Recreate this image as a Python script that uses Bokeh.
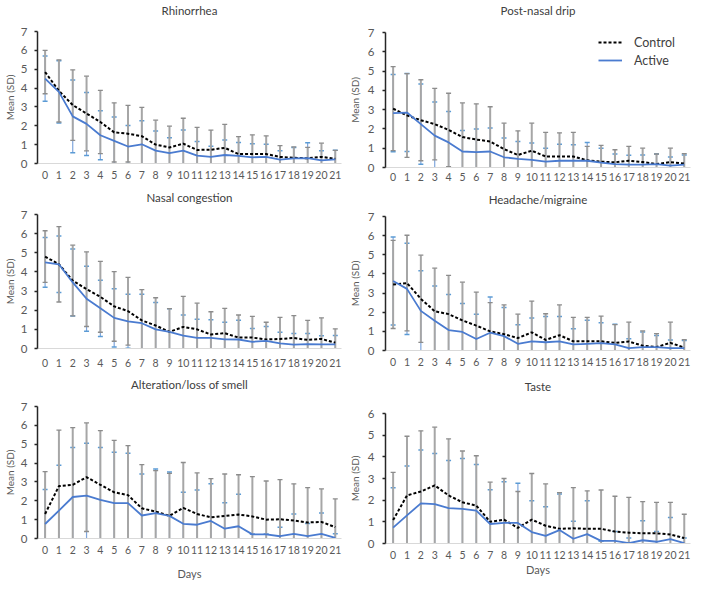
from bokeh.plotting import figure
from bokeh.models import FixedTicker, Range1d, Legend, LegendItem, ColumnDataSource, LinearAxis
from bokeh.layouts import row, column
from bokeh.embed import file_html
from bokeh.resources import INLINE

days = list(range(22))
y_ticks_7 = [0, 1, 2, 3, 4, 5, 6, 7]
y_ticks_6 = [0, 1, 2, 3, 4, 5, 6]

# Rhinorrhea
rhin_ctrl_mean = [4.85, 3.85, 3.1, 2.65, 2.2, 1.65, 1.58, 1.45, 1.0, 0.85, 1.05, 0.72, 0.73, 0.83, 0.5, 0.5, 0.5, 0.35, 0.3, 0.28, 0.35, 0.25]
rhin_ctrl_sd = [1.15, 1.65, 1.87, 1.98, 1.68, 1.57, 1.5, 1.53, 1.3, 1.13, 1.35, 1.2, 1.04, 1.24, 0.93, 1.02, 0.97, 0.6, 0.58, 0.57, 0.73, 0.45]
rhin_act_mean = [4.5, 3.8, 2.5, 2.1, 1.5, 1.2, 0.9, 1.02, 0.68, 0.55, 0.68, 0.42, 0.35, 0.45, 0.4, 0.33, 0.35, 0.2, 0.27, 0.28, 0.17, 0.22]
rhin_act_sd = [1.2, 1.65, 1.93, 1.67, 1.3, 1.27, 1.12, 1.25, 1.04, 0.82, 1.09, 0.75, 0.57, 0.8, 0.72, 0.72, 0.67, 0.47, 0.58, 0.82, 0.5, 0.48]

# Post-nasal drip
pnd_ctrl_mean = [3.05, 2.7, 2.45, 2.25, 1.95, 1.58, 1.45, 1.35, 0.95, 0.65, 0.87, 0.57, 0.57, 0.57, 0.37, 0.3, 0.27, 0.35, 0.28, 0.18, 0.28, 0.2]
pnd_ctrl_sd = [2.18, 2.17, 2.1, 1.85, 1.9, 1.77, 1.85, 1.8, 1.35, 1.25, 1.43, 1.25, 1.23, 1.25, 0.73, 0.85, 0.65, 0.75, 0.72, 0.52, 0.72, 0.52]
pnd_act_mean = [2.82, 2.85, 2.25, 1.65, 1.3, 0.83, 0.8, 0.83, 0.53, 0.45, 0.4, 0.3, 0.35, 0.35, 0.35, 0.25, 0.18, 0.15, 0.15, 0.17, 0.1, 0.15]
pnd_act_sd = [2.0, 2.02, 2.08, 1.75, 1.6, 1.09, 1.2, 1.22, 1.0, 0.9, 0.87, 0.7, 0.85, 0.83, 0.95, 0.75, 0.52, 0.48, 0.5, 0.53, 0.45, 0.5]

# Nasal congestion
nc_ctrl_mean = [4.8, 4.4, 3.55, 3.1, 2.7, 2.2, 1.95, 1.47, 1.2, 0.87, 1.13, 1.0, 0.73, 0.8, 0.57, 0.57, 0.47, 0.5, 0.55, 0.45, 0.5, 0.3]
nc_ctrl_sd = [1.35, 1.97, 1.85, 1.95, 1.85, 1.82, 1.77, 1.61, 1.45, 1.21, 1.59, 1.37, 1.19, 1.3, 1.18, 1.11, 0.9, 1.13, 1.17, 1.02, 1.1, 0.73]
nc_act_mean = [4.5, 4.4, 3.45, 2.6, 2.1, 1.6, 1.42, 1.32, 1.0, 0.87, 0.67, 0.55, 0.55, 0.48, 0.47, 0.35, 0.4, 0.27, 0.2, 0.23, 0.22, 0.22]
nc_act_sd = [1.3, 1.48, 1.75, 1.7, 1.47, 1.52, 1.41, 1.51, 1.4, 1.2, 1.08, 0.98, 0.95, 0.89, 1.01, 0.7, 0.75, 0.58, 0.58, 0.55, 0.45, 0.46]

# Headache/migraine
hm_ctrl_mean = [3.45, 3.52, 2.7, 2.05, 1.9, 1.57, 1.3, 1.0, 0.85, 0.65, 0.95, 0.55, 0.8, 0.48, 0.48, 0.48, 0.4, 0.47, 0.25, 0.18, 0.4, 0.15]
hm_ctrl_sd = [2.3, 2.5, 2.28, 2.25, 2.02, 2.0, 1.75, 1.5, 1.53, 1.25, 1.63, 1.37, 1.58, 1.25, 1.25, 1.32, 0.95, 1.01, 0.77, 0.7, 1.08, 0.42]
hm_act_mean = [3.63, 3.22, 2.07, 1.55, 1.07, 0.97, 0.6, 0.93, 0.75, 0.35, 0.48, 0.43, 0.48, 0.32, 0.35, 0.38, 0.32, 0.12, 0.18, 0.18, 0.12, 0.12]
hm_act_sd = [2.3, 2.38, 2.1, 1.82, 1.85, 1.48, 1.3, 1.87, 1.5, 1.0, 1.22, 1.34, 1.29, 0.81, 1.23, 1.07, 1.05, 0.5, 0.79, 0.6, 0.43, 0.4]

# Alteration/loss of smell
sm_ctrl_mean = [1.3, 2.78, 2.85, 3.25, 2.85, 2.45, 2.3, 1.6, 1.43, 1.2, 1.62, 1.3, 1.12, 1.2, 1.27, 1.17, 1.0, 1.02, 0.95, 0.85, 0.88, 0.6]
sm_ctrl_sd = [2.25, 2.97, 3.03, 2.88, 2.87, 2.75, 2.63, 2.32, 2.17, 2.25, 2.41, 2.18, 2.05, 2.22, 2.11, 2.11, 2.05, 2.1, 1.95, 1.85, 1.75, 1.5]
sm_act_mean = [0.77, 1.48, 2.2, 2.27, 2.05, 1.88, 1.88, 1.22, 1.35, 1.2, 0.78, 0.73, 0.93, 0.52, 0.65, 0.22, 0.22, 0.12, 0.25, 0.12, 0.25, 0.03]
sm_act_sd = [1.83, 2.4, 2.63, 2.78, 2.78, 2.7, 2.64, 2.2, 2.33, 2.32, 1.67, 1.84, 1.97, 1.38, 1.7, 0.0, 0.0, 0.48, 1.05, 0.68, 1.1, 0.22]

# Taste
ta_ctrl_mean = [1.08, 2.22, 2.4, 2.68, 2.22, 1.9, 1.75, 1.0, 1.1, 0.72, 1.1, 0.82, 0.68, 0.7, 0.68, 0.68, 0.55, 0.5, 0.47, 0.47, 0.42, 0.25]
ta_ctrl_sd = [2.2, 2.73, 2.8, 2.69, 2.61, 2.37, 2.3, 1.83, 1.9, 1.68, 2.13, 1.93, 1.67, 1.88, 1.75, 1.79, 1.63, 1.63, 1.46, 1.43, 1.48, 1.1]
ta_act_mean = [0.73, 1.3, 1.85, 1.82, 1.63, 1.6, 1.52, 0.9, 0.95, 0.95, 0.53, 0.35, 0.62, 0.22, 0.43, 0.12, 0.12, 0.02, 0.15, 0.08, 0.2, 0.02]
ta_act_sd = [1.84, 2.28, 2.47, 2.33, 2.2, 2.32, 2.13, 1.58, 1.9, 1.83, 1.44, 1.35, 1.66, 0.81, 1.54, 0.0, 0.43, 0.23, 0.9, 0.47, 1.0, 0.23]

FONT = "Lato"
TXT = "#595959"
CAP = 0.18
X0, X1 = -0.55, 21.45


def error_bars(p, means, sds, stem_color, stem_width, cap_color, cap_width):
    up = [m + s for m, s in zip(means, sds)]
    lo = [m - s for m, s in zip(means, sds)]
    src = ColumnDataSource(dict(x=days, up=up, lo=lo,
                                xl=[d - CAP for d in days], xr=[d + CAP for d in days]))
    p.segment(x0="x", y0="lo", x1="x", y1="up", source=src, line_color=stem_color, line_width=stem_width)
    p.segment(x0="xl", y0="up", x1="xr", y1="up", source=src, line_color=cap_color, line_width=cap_width)
    p.segment(x0="xl", y0="lo", x1="xr", y1="lo", source=src, line_color=cap_color, line_width=cap_width)


def panel(title, cm, csd, am, asd, yticks, width, height, bl, br, bt, bb,
          title_gap, ylab_standoff, ylabel_gap, xtick_gap=7, xlabel_gap=None):
    ymax = yticks[-1]
    p = figure(width=width, height=height, x_range=Range1d(X0, X1),
               y_range=Range1d(0, ymax), output_backend="svg", toolbar_location=None,
               min_border_left=bl, min_border_right=br, min_border_top=bt, min_border_bottom=bb,
               background_fill_color="white", border_fill_color="white")
    p.outline_line_color = None
    p.grid.visible = False

    error_bars(p, am, asd, "#7fa6dc", 1.2, "#5b9bd5", 1.5)
    error_bars(p, cm, csd, "#a6a6a6", 2, "#8c8c8c", 1.3)
    r_c = p.line(days, cm, line_color="black", line_width=2, line_dash="3 2")
    r_a = p.line(days, am, line_color="#4a7bd0", line_width=1.8)

    ya = p.yaxis[0]
    ya.ticker = FixedTicker(ticks=yticks)
    ya.axis_line_color = "#262626"
    ya.axis_line_width = 1.5
    ya.major_tick_line_color = "#262626"
    ya.major_tick_line_width = 1.5
    ya.major_tick_out = 3
    ya.major_tick_in = 0
    ya.minor_tick_line_color = None
    ya.major_label_text_font = FONT
    ya.major_label_text_font_size = "11.5px"
    ya.major_label_text_color = TXT
    ya.major_label_standoff = ylab_standoff
    ya.axis_label = "Mean (SD)"
    ya.axis_label_text_font = FONT
    ya.axis_label_text_font_size = "10px"
    ya.axis_label_text_font_style = "normal"
    ya.axis_label_text_color = TXT
    ya.axis_label_standoff = ylabel_gap

    xa = p.xaxis[0]
    xa.ticker = FixedTicker(ticks=days)
    xa.axis_line_color = "#d9d9d9"
    xa.axis_line_width = 1
    xa.major_tick_line_color = None
    xa.major_tick_out = 0
    xa.major_tick_in = 0
    xa.minor_tick_line_color = None
    xa.major_label_text_font = FONT
    xa.major_label_text_font_size = "10.5px"
    xa.major_label_text_color = TXT
    xa.major_label_standoff = xtick_gap
    if xlabel_gap is not None:
        xa.axis_label = "Days"
        xa.axis_label_text_font = FONT
        xa.axis_label_text_font_size = "11px"
        xa.axis_label_text_font_style = "normal"
        xa.axis_label_text_color = TXT
        xa.axis_label_standoff = xlabel_gap

    # the panel title, as the label of a bare axis above the frame
    ta = LinearAxis(ticker=FixedTicker(ticks=[]), axis_line_color=None,
                    major_tick_line_color=None, minor_tick_line_color=None,
                    major_tick_out=0, major_tick_in=0, major_label_standoff=0,
                    axis_label=title, axis_label_standoff=title_gap,
                    axis_label_text_font=FONT, axis_label_text_font_size="11.5px",
                    axis_label_text_font_style="normal", axis_label_text_color="#404040")
    p.add_layout(ta, "above")
    return p, r_c, r_a


W1, W2 = 344, 348
# column 1
p1, _, _ = panel("Rhinorrhea", rhin_ctrl_mean, rhin_ctrl_sd, rhin_act_mean, rhin_act_sd, y_ticks_7,
                 W1, 28 + 135 + 24, 31, 3, 28, 24, title_gap=15, ylab_standoff=7, ylabel_gap=2)
p3, _, _ = panel("Nasal congestion", nc_ctrl_mean, nc_ctrl_sd, nc_act_mean, nc_act_sd, y_ticks_7,
                 W1, 26 + 135 + 26, 31, 3, 26, 26, title_gap=11, ylab_standoff=7, ylabel_gap=2,
                 xtick_gap=10)
p5, _, _ = panel("Alteration/loss of smell", sm_ctrl_mean, sm_ctrl_sd, sm_act_mean, sm_act_sd, y_ticks_7,
                 W1, 30 + 134 + 44, 31, 3, 30, 44, title_gap=16, ylab_standoff=7, ylabel_gap=2,
                 xlabel_gap=10)
# column 2
p2, rc, ra = panel("Post-nasal drip", pnd_ctrl_mean, pnd_ctrl_sd, pnd_act_mean, pnd_act_sd, y_ticks_7,
                   W2, 32 + 135 + 22, 41, 2, 32, 22, title_gap=16, ylab_standoff=8, ylabel_gap=4,
                   xtick_gap=5)
p4, _, _ = panel("Headache/migraine", hm_ctrl_mean, hm_ctrl_sd, hm_act_mean, hm_act_sd, y_ticks_7,
                 W2, 26 + 135 + 26, 41, 2, 26, 26, title_gap=11, ylab_standoff=8, ylabel_gap=4)
p6, _, _ = panel("Taste", ta_ctrl_mean, ta_ctrl_sd, ta_act_mean, ta_act_sd, y_ticks_6,
                 W2, 35 + 132 + 39, 41, 2, 35, 39, title_gap=21, ylab_standoff=8, ylabel_gap=4,
                 xlabel_gap=1)

legend = Legend(items=[LegendItem(label="Control", renderers=[rc]),
                       LegendItem(label="Active", renderers=[ra])],
                location=(213, 98), orientation="vertical",
                background_fill_alpha=0, border_line_color=None,
                padding=0, spacing=0, margin=0,
                glyph_width=24, glyph_height=18, label_height=18,
                label_standoff=12, label_text_font=FONT, label_text_font_size="12.5px",
                label_text_color="#404040")
p2.add_layout(legend)

layout = row(column(p1, p3, p5), column(p2, p4, p6))
open("out.html", "w").write(file_html(layout, INLINE))
